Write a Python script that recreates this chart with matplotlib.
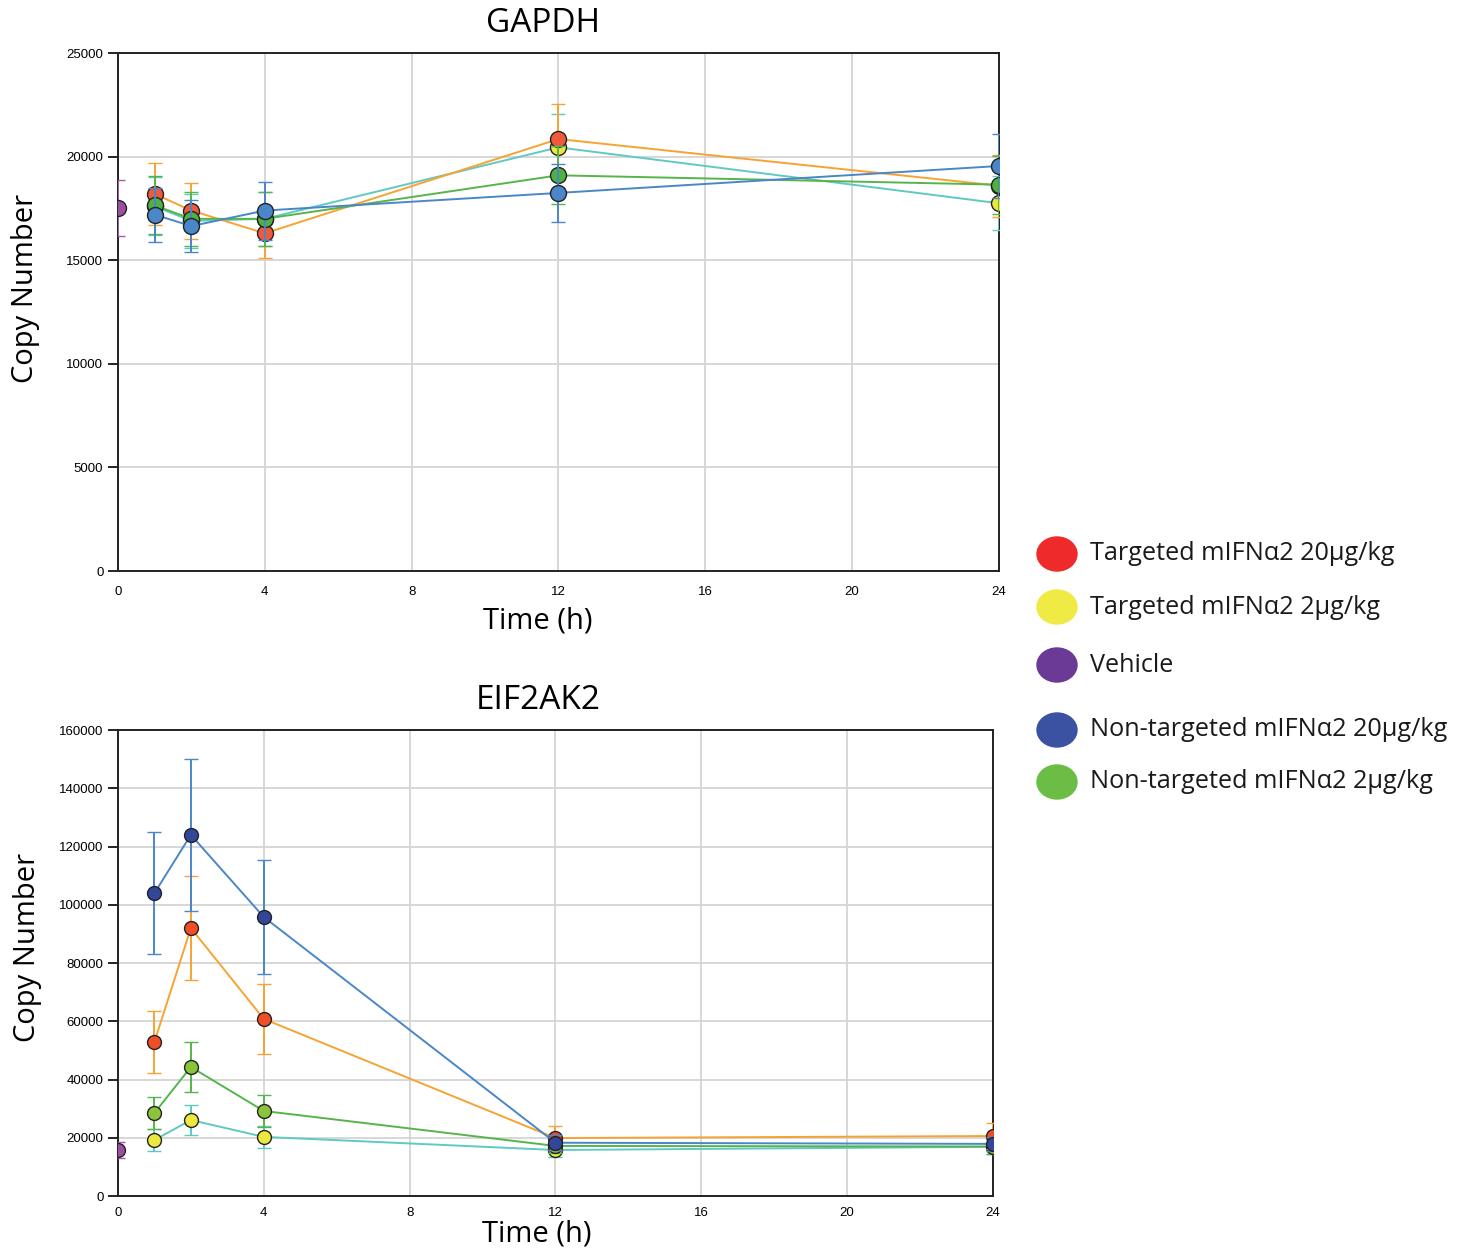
import numpy as np
import matplotlib
matplotlib.use('Agg')
import matplotlib.pyplot as plt
from matplotlib.patches import Ellipse

# time points (h)
t = [1, 2, 4, 12, 24]
t_veh = [0]

# GAPDH copy number (mean, error)
gapdh_t20 = [18200, 17400, 16300, 20850, 18600]
gapdh_t20_err = [1500, 1350, 1200, 1700, 1500]
gapdh_t2 = [17600, 16900, 17000, 20450, 17750]
gapdh_t2_err = [1400, 1300, 1300, 1600, 1300]
gapdh_veh = [17500]
gapdh_veh_err = [1350]
gapdh_n20 = [17200, 16650, 17400, 18250, 19550]
gapdh_n20_err = [1300, 1250, 1400, 1400, 1550]
gapdh_n2 = [17650, 17000, 17000, 19100, 18650]
gapdh_n2_err = [1400, 1300, 1300, 1400, 1400]

# EIF2AK2 copy number (mean, error)
eif_t20 = [52900, 92000, 60800, 19900, 20600]
eif_t20_err = [10500, 18000, 12000, 4000, 4500]
eif_t2 = [19200, 26100, 20300, 15800, 16900]
eif_t2_err = [3700, 5000, 3700, 2500, 2500]
eif_veh = [15800]
eif_veh_err = [2800]
eif_n20 = [104000, 124000, 95800, 18300, 17900]
eif_n20_err = [21000, 26000, 19500, 2500, 2500]
eif_n2 = [28500, 44300, 29200, 17200, 17000]
eif_n2_err = [5500, 8600, 5600, 2500, 2500]

labels = ['Targeted mIFN\u03b12 20\u03bcg/kg', 'Targeted mIFN\u03b12 2\u03bcg/kg', 'Vehicle',
          'Non-targeted mIFN\u03b12 20\u03bcg/kg', 'Non-targeted mIFN\u03b12 2\u03bcg/kg']
legend_colors = ['#ee2b2a', '#f0ea45', '#6b3996', '#3a52a1', '#6cbd45']

line_c = {'t20': '#f7a334', 't2': '#5fc9c2', 'veh': '#a35aa8', 'n20': '#4a86c8', 'n2': '#55b54a'}

fig = plt.figure(figsize=(14.69, 12.55), dpi=100)
ax1 = fig.add_axes([0.0803, 0.545, 0.5997, 0.4127])
ax2 = fig.add_axes([0.0803, 0.047, 0.5956, 0.3713])


def draw(ax, x, y, err, lc, fc, z, ms=11.5, mw=1.0):
    ax.errorbar(x, y, yerr=err, color=lc, lw=1.4, capsize=5, capthick=1.4,
                marker='o', ms=ms, mfc=fc, mec='#222222', mew=mw, zorder=z)


# top: GAPDH
draw(ax1, t_veh, gapdh_veh, gapdh_veh_err, line_c['veh'], '#9b4fa0', 3)
draw(ax1, t, gapdh_t2, gapdh_t2_err, line_c['t2'], '#e9e83f', 4)
draw(ax1, t, gapdh_t20, gapdh_t20_err, line_c['t20'], '#ef5a3c', 5)
draw(ax1, t, gapdh_n2, gapdh_n2_err, line_c['n2'], '#4fb240', 6)
draw(ax1, t, gapdh_n20, gapdh_n20_err, line_c['n20'], '#4a86c8', 7)

# bottom: EIF2AK2
draw(ax2, t_veh, eif_veh, eif_veh_err, line_c['veh'], '#9b4fa0', 3, ms=10)
draw(ax2, t, eif_t2, eif_t2_err, line_c['t2'], '#ece840', 4, ms=10)
draw(ax2, t, eif_n2, eif_n2_err, line_c['n2'], '#8ac43a', 5, ms=10)
draw(ax2, t, eif_t20, eif_t20_err, line_c['t20'], '#f04e28', 6, ms=10)
draw(ax2, t, eif_n20, eif_n20_err, line_c['n20'], '#33479a', 7, ms=10)

settings = [(ax1, 25000, 5000, 'GAPDH', 0.476, 0.546, 0.482, 11, 6, 19),
            (ax2, 160000, 20000, 'EIF2AK2', 0.479, 0.534, 0.480, 8, 0, 12)]
for ax, ymax, step, title, xl, yl, tl, tpad, xpad, ypad in settings:
    ax.set_xlim(0, 24)
    ax.set_ylim(0, ymax)
    ax.set_xticks(range(0, 25, 4))
    ax.set_yticks(np.arange(0, ymax + 1, step))
    ax.grid(True, color='#d4d4d4', lw=1.3)
    ax.set_axisbelow(True)
    for s in ax.spines.values():
        s.set_color('#222222')
        s.set_linewidth(1.4)
    ax.tick_params(axis='y', direction='out', length=7, width=1.2, labelsize=9.5)
    ax.tick_params(axis='x', direction='out', length=0, labelsize=9.5, pad=tpad)
    for lab in ax.get_xticklabels() + ax.get_yticklabels():
        lab.set_fontfamily('Liberation Sans')
    ax.set_xlabel('Time (h)', fontsize=21, fontfamily='Open Sans', labelpad=xpad, x=xl)
    ax.set_ylabel('Copy Number', fontsize=21, fontfamily='Open Sans', labelpad=ypad, y=yl)
    ax.set_title(title, fontsize=24, fontfamily='Open Sans', pad=15, x=tl)

# legend drawn on figure
leg_y = [554, 607, 665, 730, 782]
W, H = 1469, 1255
for yy, lab, c in zip(leg_y, labels, legend_colors):
    fig.add_artist(Ellipse((1057 / W, 1 - yy / H), 40 / W, 34 / H, color=c,
                           transform=fig.transFigure))
    fig.text(1090 / W, 1 - yy / H, lab, fontsize=18.2, fontfamily='Open Sans',
             va='center', ha='left', color='#1a1a1a')

fig.savefig('out.png', dpi=100)
